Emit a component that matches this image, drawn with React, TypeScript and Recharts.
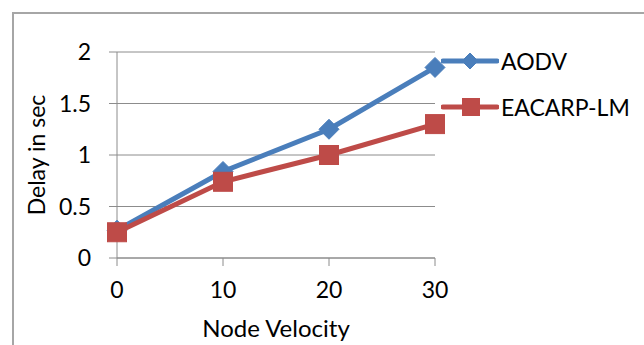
import { LineChart, Line, XAxis, YAxis, CartesianGrid, Legend } from 'recharts';

const velocities = [0, 10, 20, 30];
const aodvDelay = [0.27, 0.84, 1.25, 1.85];
const eacarpDelay = [0.25, 0.74, 1.0, 1.3];
const delayTicks = [0, 0.5, 1, 1.5, 2];

const BLUE = '#4a7ebb';
const RED = '#be4b48';
const GRID = '#8c8c8c';
const FONT = 'Lato, "Open Sans", sans-serif';

const data = velocities.map((v, i) => ({
    velocity: v,
    aodv: aodvDelay[i],
    eacarp: eacarpDelay[i],
}));

function Diamond({ cx, cy, fill, r = 9 }: any) {
    if (cx == null || cy == null) return null;
    return (
        <polygon
            points={`${cx},${cy - r} ${cx + r},${cy} ${cx},${cy + r} ${cx - r},${cy}`}
            fill={fill}
            stroke={fill}
        />
    );
}

function Square({ cx, cy, fill, r = 9 }: any) {
    if (cx == null || cy == null) return null;
    return <rect x={cx - r} y={cy - r} width={r * 2} height={r * 2} fill={fill} stroke={fill} />;
}

// legend entries stacked on the right, line + marker + name
function SeriesLegend({ payload }: any) {
    return (
        <div style={{ fontFamily: FONT, fontSize: 23, color: '#000' }}>
            {(payload || []).map((entry: any, i: number) => (
                <div key={entry.value} style={{ display: 'flex', alignItems: 'center', height: 46 }}>
                    <svg width={58} height={24} style={{ display: 'block' }}>
                        <line x1={2} y1={12} x2={56} y2={12} stroke={entry.color} strokeWidth={5} strokeLinecap="round" />
                        {i === 0 ? (
                            <Diamond cx={29} cy={12} fill={entry.color} r={8} />
                        ) : (
                            <Square cx={30} cy={12} fill={entry.color} r={8.5} />
                        )}
                    </svg>
                    <span style={{ marginLeft: 2, lineHeight: 1 }}>{entry.value}</span>
                </div>
            ))}
        </div>
    );
}

export default function App() {
    return (
        <div style={{ position: 'absolute', left: 0, top: 0, width: 644, height: 345, overflow: 'hidden', background: '#fff' }}>
            <div
                style={{
                    position: 'absolute',
                    left: 12,
                    top: 12,
                    width: 700,
                    height: 400,
                    border: '2px solid #a6a6a6',
                    boxSizing: 'border-box',
                }}
            />
            <LineChart
                width={644}
                height={345}
                data={data}
                margin={{ top: 52, right: 209, bottom: 7, left: 12 }}
                style={{ fontFamily: FONT }}
            >
                <CartesianGrid vertical={false} stroke={GRID} strokeWidth={1} />
                <XAxis
                    dataKey="velocity"
                    type="number"
                    domain={[0, 30]}
                    ticks={velocities}
                    height={80}
                    stroke={GRID}
                    tickSize={8}
                    tickMargin={16}
                    tick={{ fill: '#000', fontSize: 23 }}
                    label={{ value: 'Node Velocity', position: 'insideBottom', offset: 1, fill: '#000', fontSize: 24 }}
                />
                <YAxis
                    domain={[0, 2]}
                    ticks={delayTicks}
                    width={105}
                    stroke={GRID}
                    tickSize={8}
                    tickMargin={18}
                    tick={{ fill: '#000', fontSize: 23 }}
                    label={{ value: 'Delay in sec', angle: -90, position: 'center', dx: -28, fill: '#000', fontSize: 23 }}
                />
                {/* centered/middle so the legend takes no room from the plot; placed by wrapperStyle */}
                <Legend
                    layout="vertical"
                    verticalAlign="middle"
                    align="center"
                    content={<SeriesLegend />}
                    wrapperStyle={{ left: 441, top: 38, right: 'auto', bottom: 'auto', width: 200 }}
                />
                <Line
                    name="AODV"
                    dataKey="aodv"
                    stroke={BLUE}
                    strokeWidth={5}
                    dot={<Diamond fill={BLUE} r={10} />}
                    activeDot={false}
                    isAnimationActive={false}
                />
                <Line
                    name="EACARP-LM"
                    dataKey="eacarp"
                    stroke={RED}
                    strokeWidth={5}
                    dot={<Square fill={RED} r={9.5} />}
                    activeDot={false}
                    isAnimationActive={false}
                />
            </LineChart>
        </div>
    );
}
